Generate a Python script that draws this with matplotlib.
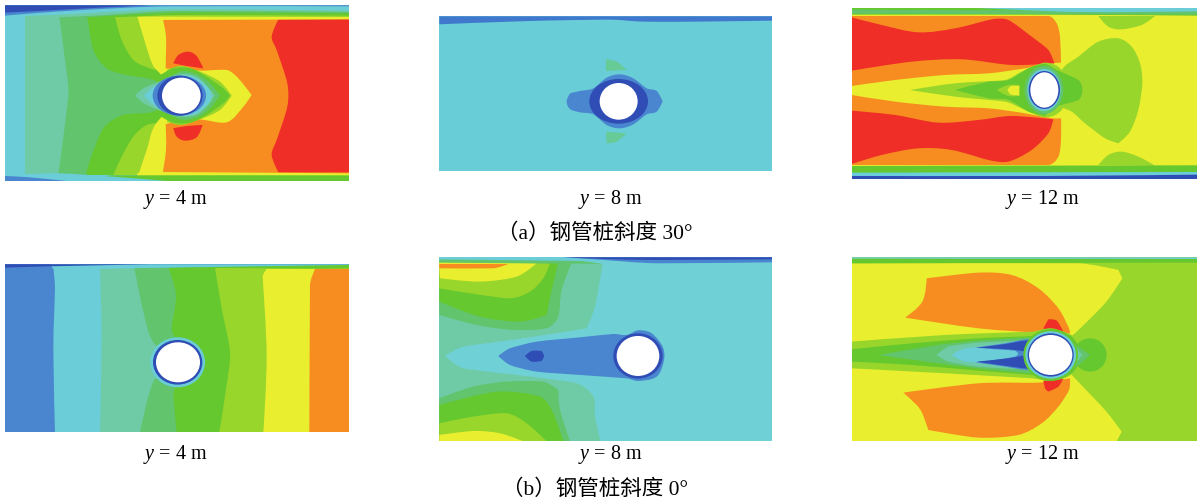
import matplotlib
matplotlib.use('Agg')
import matplotlib.pyplot as plt
import numpy as np
from matplotlib.patches import Ellipse, PathPatch
from matplotlib.path import Path

plt.rcParams['font.family'] = ['Liberation Serif', 'Noto Sans CJK SC']
plt.rcParams['mathtext.fontset'] = 'custom'
plt.rcParams['mathtext.it'] = 'Liberation Serif:italic'
plt.rcParams['mathtext.rm'] = 'Liberation Serif'

DEEP = '#2f4db4'
BLUE = '#4a86cf'
CYAN = '#6bcdd8'
TEAL = '#6fcba5'
MED = '#62c46c'
LG = '#66c82f'
YG = '#98d62c'
YEL = '#e9ee2e'
ORA = '#f78c20'
RED = '#ee2e27'

captions = ['（a）钢管桩斜度 30°', '（b）钢管桩斜度 0°']
labels = ['$y$ = 4 m', '$y$ = 8 m', '$y$ = 12 m']

# contour outlines, units are 3x crop pixels of each panel
# panel 1: y=4, 30 deg
p1_teal = [(75, 50), (1047, 50), (1047, 525), (75, 525)]
p1_med = [(178, 50), (1047, 50), (1047, 525), (175, 525), (205, 285), (195, 180)]
p1_lg = [(262, 50), (280, 150), (320, 205), (380, 225), (460, 240), (544, 287), (460, 335), (370, 345), (310, 385),
         (270, 480), (258, 525), (1047, 525), (1047, 50)]
p1_yg = [(345, 50), (365, 120), (400, 180), (450, 205), (500, 220), (544, 287), (500, 360), (440, 375), (400, 410),
         (365, 470), (340, 525), (1047, 525), (1047, 50)]
p1_yel = [(412, 50), (430, 110), (450, 175), (465, 205), (544, 287), (465, 375), (440, 450), (415, 525), (1047, 525),
          (1047, 50)]
p1_ora = [(487, 50), (498, 110), (497, 205), (590, 212), (680, 210), (715, 235), (755, 285), (730, 320), (680, 367),
          (590, 358), (497, 372), (498, 450), (487, 525), (1047, 525), (1047, 50)]
p1_red_r = [(835, 58), (815, 110), (830, 150), (862, 250), (862, 320), (830, 420), (815, 465), (835, 517), (1047, 517),
            (1047, 58)]
p1_red_t = [(520, 190), (535, 165), (565, 155), (590, 168), (610, 205), (560, 198)]
p1_red_b = [(520, 385), (560, 378), (608, 375), (590, 412), (555, 422), (530, 410)]
p1_in_yg = [(500, 210), (545, 198), (600, 215), (660, 245), (695, 287), (660, 330), (600, 358), (545, 375), (500, 365),
            (530, 287)]
p1_in_lg = [(470, 232), (520, 205), (570, 205), (620, 230), (670, 265), (690, 287), (670, 310), (620, 345), (570, 368),
            (520, 368), (470, 342)]
p1_in_med = [(450, 262), (540, 215), (590, 222), (630, 250), (660, 287), (630, 325), (590, 352), (540, 358), (450, 312)]
p1_in_teal = [(405, 287), (430, 265), (470, 248), (540, 222), (590, 230), (625, 262), (645, 287), (625, 315), (590, 345),
              (540, 350), (470, 328), (430, 309)]
p1_in_cyan = [(432, 287), (450, 268), (480, 250), (540, 226), (590, 235), (625, 265), (635, 287), (625, 310), (590, 340),
              (540, 346), (480, 326), (450, 306)]
p1_s_yel = [(412, 16), (1047, 16), (1047, 58), (487, 60), (412, 52)]
p1_s_yg = [(345, 16), (1047, 16), (1047, 51), (530, 50), (412, 50), (345, 54)]
p1_s_lg = [(262, 16), (1047, 16), (1047, 47), (540, 45), (345, 52), (262, 55)]
p1_s_med = [(178, 16), (1047, 16), (1047, 40), (530, 38), (262, 52), (178, 55)]
p1_s_teal = [(75, 16), (1047, 16), (1047, 36), (530, 33), (300, 46), (178, 52), (75, 55)]
p1_s_cyan = [(15, 16), (1047, 16), (1047, 32), (530, 28), (178, 44), (75, 48), (15, 48)]
p1_s_blue = [(15, 16), (1047, 16), (1047, 19), (500, 19), (250, 30), (100, 40), (15, 47)]
p1_s_deep = [(15, 16), (450, 16), (300, 23), (100, 34), (15, 38)]
p1_b_yel = [(412, 519), (487, 516), (1047, 520), (1047, 543), (412, 543)]
p1_b_lg = [(340, 526), (1047, 526), (1047, 543), (250, 543)]
p1_b_cyan = [(15, 518), (75, 522), (180, 520), (340, 530), (500, 543), (15, 543)]
p1_b_blue = [(15, 528), (90, 532), (200, 543), (15, 543)]

# panel 2: y=8, 30 deg
p2_top = [(28, 34), (1026, 34), (1026, 47), (800, 50), (640, 50), (540, 44), (300, 48), (28, 58)]
p2_blue = [(410, 289), (420, 265), (450, 258), (490, 250), (530, 218), (570, 208), (610, 220), (650, 250), (680, 258),
           (698, 289), (680, 320), (650, 328), (610, 358), (570, 370), (530, 360), (490, 328), (450, 322), (420, 312)]
p2_gr_t = [(528, 163), (560, 170), (590, 195), (528, 198)]
p2_gr_b = [(528, 380), (590, 385), (560, 410), (530, 415)]

# panel 3: y=12, 30 deg
p3_ora_u = [(20, 48), (610, 48), (635, 70), (645, 110), (648, 188), (620, 190), (540, 205), (430, 220), (300, 225),
            (150, 240), (20, 258)]
p3_ora_l = [(20, 285), (150, 305), (300, 320), (430, 325), (540, 340), (620, 355), (648, 355), (648, 420), (640, 470),
            (610, 495), (20, 495)]
p3_red_u = [(20, 52), (110, 75), (220, 97), (330, 85), (440, 58), (490, 60), (560, 110), (610, 150), (628, 190),
            (500, 195), (350, 178), (200, 185), (20, 212)]
p3_red_l = [(20, 332), (150, 345), (280, 368), (400, 360), (500, 348), (625, 358), (610, 400), (560, 450), (490, 485),
            (430, 480), (320, 450), (220, 445), (110, 465), (20, 492)]
p3_yg_big = [(650, 212), (700, 170), (760, 125), (820, 115), (860, 140), (885, 190), (892, 250), (880, 330), (855, 395),
             (820, 430), (780, 415), (720, 370), (680, 335), (640, 320)]
p3_yg_t = [(760, 48), (930, 48), (890, 75), (830, 88), (790, 80)]
p3_yg_b = [(760, 495), (790, 465), (830, 455), (880, 470), (930, 497)]
p3_w_yg = [(195, 270), (330, 250), (480, 240), (530, 215), (600, 188), (650, 210), (665, 270), (650, 330), (600, 352),
           (530, 325), (480, 305), (330, 290)]
p3_w_lg = [(330, 270), (430, 245), (490, 240), (550, 205), (600, 192), (635, 210), (700, 240), (712, 270), (700, 300),
           (635, 320), (600, 348), (550, 335), (490, 300), (430, 295)]
p3_spot_yg = [(455, 270), (490, 255), (525, 255), (525, 288), (490, 288)]
p3_spot_yel = [(487, 270), (498, 258), (522, 258), (522, 286), (498, 284)]
p3_s_t = [(20, 24), (1056, 24), (1056, 47), (600, 44), (20, 44)]
p3_s_t2 = [(20, 29), (1056, 33), (1056, 44), (20, 41)]
p3_s_t3 = [(400, 24), (1056, 24), (1056, 34), (700, 36)]
p3_s_b = [(20, 498), (1056, 496), (1056, 538), (20, 538)]
p3_s_b2 = [(20, 518), (1056, 516), (1056, 538), (20, 538)]
p3_s_b3 = [(20, 528), (600, 528), (1056, 524), (1056, 538), (20, 538)]

# panel 4: y=4, 0 deg
p4_cyan = [(160, 38), (165, 100), (160, 280), (165, 532), (1047, 532), (1047, 38)]
p4_teal = [(300, 38), (305, 250), (300, 532), (1047, 532), (1047, 38)]
p4_med = [(403, 38), (430, 170), (460, 262), (533, 322), (460, 380), (420, 532), (1047, 532), (1047, 38)]
p4_lg = [(505, 38), (528, 120), (515, 220), (530, 262), (533, 322), (530, 380), (520, 420), (530, 532), (1047, 532),
         (1047, 38)]
p4_yg = [(645, 38), (665, 160), (690, 290), (680, 390), (658, 532), (1047, 532), (1047, 38)]
p4_yel = [(800, 42), (788, 65), (800, 300), (790, 532), (1047, 532), (1047, 42)]
p4_ora = [(945, 42), (930, 90), (928, 532), (1047, 532), (1047, 42)]
p4_s_cyan = [(150, 28), (1047, 28), (1047, 34), (500, 38), (300, 42), (160, 42)]
p4_s_lg = [(500, 38), (1047, 30), (1047, 40), (945, 41), (800, 40)]
p4_s_deep = [(15, 28), (450, 28), (150, 34), (15, 38)]

# panel 5: y=8, 0 deg
p5_teal = [(28, 38), (518, 42), (495, 170), (470, 235), (300, 262), (100, 290), (45, 318), (100, 355), (300, 380),
           (440, 400), (490, 440), (495, 500), (512, 574), (28, 574)]
p5_med_u = [(28, 195), (140, 225), (250, 240), (350, 235), (385, 200), (395, 120), (425, 38), (28, 35)]
p5_lg_u = [(28, 155), (150, 200), (270, 215), (350, 195), (365, 120), (385, 38), (28, 35)]
p5_yg_u = [(28, 115), (120, 130), (240, 145), (300, 125), (340, 85), (360, 40), (28, 35)]
p5_yel_u = [(28, 55), (30, 85), (150, 95), (260, 80), (320, 40), (28, 35)]
p5_ora_u = [(28, 42), (235, 42), (190, 55), (28, 55)]
p5_med_l = [(28, 445), (130, 410), (230, 395), (340, 395), (385, 420), (390, 480), (420, 574), (28, 574)]
p5_lg_l = [(28, 465), (200, 425), (330, 440), (370, 490), (400, 574), (28, 574)]
p5_yg_l = [(28, 520), (130, 500), (230, 490), (290, 520), (350, 574), (28, 574)]
p5_yel_l = [(28, 555), (130, 543), (210, 550), (280, 574), (28, 574)]
p5_s_gr = [(28, 28), (400, 28), (518, 42), (28, 38)]
p5_s_cyan = [(28, 22), (400, 22), (520, 34), (28, 28)]
p5_s_blue = [(400, 22), (1026, 22), (1026, 37), (680, 40), (520, 30)]
p5_s_deep = [(400, 22), (1026, 22), (1026, 28), (680, 30), (520, 27)]
p5_spear = [(205, 318), (240, 295), (320, 275), (450, 262), (550, 252), (590, 255), (625, 241), (665, 250), (698, 290),
            (702, 330), (680, 380), (625, 393), (590, 385), (450, 375), (320, 365), (240, 345)]
p5_dark = [(285, 318), (305, 303), (335, 303), (342, 318), (335, 333), (305, 335)]

# panel 6: y=12, 0 deg
p6_yel = [(20, 40), (700, 40), (820, 60), (832, 85), (780, 160), (690, 250), (660, 270), (660, 345), (690, 385),
          (780, 480), (830, 545), (815, 574), (20, 574)]
p6_s_lg = [(20, 26), (1056, 26), (1056, 38), (20, 40)]
p6_s_cyan = [(20, 22), (1056, 22), (1056, 27), (20, 26)]
p6_ora_u = [(245, 85), (400, 68), (500, 75), (580, 115), (640, 175), (672, 235), (675, 250), (580, 248), (400, 235),
            (180, 203), (232, 155)]
p6_ora_l = [(175, 428), (400, 400), (580, 398), (675, 385), (672, 420), (640, 470), (590, 520), (520, 555), (400, 563),
            (250, 540), (232, 490), (215, 465)]
p6_red_u = [(595, 235), (610, 208), (635, 212), (655, 245), (600, 240)]
p6_red_l = [(595, 392), (655, 385), (640, 410), (610, 425), (600, 415)]
p6_w_yg = [(20, 275), (300, 255), (560, 245), (620, 235), (680, 255), (700, 315), (680, 372), (620, 392), (560, 385),
           (300, 370), (20, 355)]
p6_w_lg = [(20, 298), (200, 280), (400, 265), (560, 258), (620, 240), (680, 260), (715, 315), (680, 370), (620, 385),
           (560, 375), (400, 362), (200, 345), (20, 335)]
p6_w_med = [(100, 315), (280, 285), (400, 272), (560, 262), (640, 250), (700, 290), (735, 315), (700, 345), (640, 375),
            (560, 370), (400, 355), (280, 340)]
p6_w_teal = [(275, 315), (310, 290), (400, 278), (560, 270), (640, 255), (690, 290), (712, 315), (690, 340), (640, 370),
             (560, 360), (400, 350), (310, 335)]
p6_w_cyan = [(320, 315), (360, 295), (560, 272), (640, 262), (680, 290), (695, 315), (680, 340), (640, 362), (560, 355),
             (360, 335)]
p6_w_blue = [(390, 293), (480, 280), (560, 268), (620, 300), (620, 335), (560, 360), (480, 350), (390, 337), (450, 330),
             (510, 320), (520, 312), (510, 302), (450, 298)]
p6_w_deep = [(395, 293), (470, 284), (555, 272), (600, 300), (600, 340), (555, 356), (470, 346), (395, 335), (490, 325),
             (545, 315), (545, 305), (490, 298)]

W, H = 1198., 499.


def panel(box, xl, yl, bg):
    x0, y0, x1, y1 = box
    ax = plt.axes([x0/W, 1-y1/H, (x1-x0)/W, (y1-y0)/H])
    ax.set_xlim(xl)
    ax.set_ylim(yl[1], yl[0])
    ax.set_xticks([])
    ax.set_yticks([])
    ax.set_facecolor(bg)
    for s in ax.spines.values():
        s.set_visible(False)
    return ax


def band(ax, pts, c):
    # same vertices, just rounded through with beziers; sharp turns stay sharp
    p = np.array(pts, dtype=float)
    n = len(p)
    hand = np.zeros((n, 2))
    for i in range(n):
        a = p[i]-p[i-1]
        b = p[(i+1) % n]-p[i]
        la, lb = np.hypot(*a), np.hypot(*b)
        if np.dot(a, b)/(la*lb) > 0.6:
            t = p[(i+1) % n]-p[i-1]
            hand[i] = t/np.hypot(*t)*min(la, lb)/3
    verts = [p[0]]
    codes = [Path.MOVETO]
    for i in range(n):
        j = (i+1) % n
        verts += [p[i]+hand[i], p[j]-hand[j], p[j]]
        codes += [Path.CURVE4]*3
    ax.add_patch(PathPatch(Path(verts, codes), fc=c, ec='none', lw=0))


def ring(ax, x, y, rx, ry, c):
    ax.add_patch(Ellipse((x, y), 2*rx, 2*ry, fc=c, ec='none'))


fig = plt.figure(figsize=(11.98, 4.99), dpi=100)

# 1
ax = panel((5, 5.3, 349, 181), (15, 1047), (16, 543), CYAN)
for pts, c in [(p1_teal, TEAL), (p1_med, MED), (p1_lg, LG), (p1_yg, YG), (p1_yel, YEL), (p1_ora, ORA), (p1_red_r, RED),
               (p1_red_t, RED), (p1_red_b, RED), (p1_in_yg, YG), (p1_in_lg, LG), (p1_in_med, MED), (p1_in_teal, TEAL),
               (p1_in_cyan, CYAN), (p1_s_yel, YEL), (p1_s_yg, YG), (p1_s_lg, LG), (p1_s_med, MED), (p1_s_teal, TEAL),
               (p1_s_cyan, CYAN), (p1_s_blue, BLUE), (p1_s_deep, DEEP), (p1_b_yel, YEL), (p1_b_lg, LG),
               (p1_b_cyan, CYAN), (p1_b_blue, BLUE)]:
    band(ax, pts, c)
ring(ax, 538, 287, 80, 60, BLUE)
ring(ax, 540, 287, 68, 60, DEEP)
ring(ax, 544, 287, 58, 54, 'white')

# 2
ax = panel((439.3, 16.3, 772, 170.7), (28, 1026), (34, 497), '#69cdd8')
for pts, c in [(p2_top, '#3f78cc'), (p2_blue, BLUE), (p2_gr_t, '#66cb96'), (p2_gr_b, '#66cb96')]:
    band(ax, pts, c)
ring(ax, 566, 289, 88, 67, DEEP)
ring(ax, 566, 289, 57, 55, 'white')

# 3
ax = panel((851.7, 8, 1197, 179.3), (20, 1056), (24, 538), YEL)
for pts, c in [(p3_ora_u, ORA), (p3_ora_l, ORA), (p3_red_u, RED), (p3_red_l, RED), (p3_yg_big, YG), (p3_yg_t, YG),
               (p3_yg_b, YG), (p3_w_yg, YG), (p3_w_lg, LG), (p3_spot_yg, YG), (p3_spot_yel, YEL), (p3_s_t, LG),
               (p3_s_t2, MED), (p3_s_t3, CYAN), (p3_s_b, LG), (p3_s_b2, CYAN), (p3_s_b3, DEEP)]:
    band(ax, pts, c)
ring(ax, 597, 270, 58, 72, MED)
ring(ax, 597, 270, 50, 63, CYAN)
ring(ax, 598, 270, 47, 57, DEEP)
ring(ax, 598, 270, 42, 53, 'white')

# 4
ax = panel((5, 264.3, 349, 432.3), (15, 1047), (28, 532), BLUE)
for pts, c in [(p4_cyan, CYAN), (p4_teal, TEAL), (p4_med, MED), (p4_lg, LG), (p4_yg, YG), (p4_yel, YEL), (p4_ora, ORA),
               (p4_s_cyan, CYAN), (p4_s_lg, LG), (p4_s_deep, DEEP)]:
    band(ax, pts, c)
ring(ax, 533, 322, 82, 75, CYAN)
ring(ax, 533, 322, 74, 67, DEEP)
ring(ax, 534, 322, 66, 60, 'white')

# 5
ax = panel((439.3, 257.3, 772, 441.3), (28, 1026), (22, 574), '#6fd0d6')
for pts, c in [(p5_teal, TEAL), (p5_med_u, MED), (p5_lg_u, LG), (p5_yg_u, YG), (p5_yel_u, YEL), (p5_ora_u, ORA),
               (p5_med_l, MED), (p5_lg_l, LG), (p5_yg_l, YG), (p5_yel_l, YEL), (p5_s_gr, MED), (p5_s_cyan, CYAN),
               (p5_s_blue, BLUE), (p5_s_deep, DEEP), (p5_spear, BLUE), (p5_dark, DEEP)]:
    band(ax, pts, c)
ring(ax, 624, 318, 74, 68, DEEP)
ring(ax, 624, 318, 64, 60, 'white')

# 6
ax = panel((851.7, 257.3, 1197, 441.3), (20, 1056), (22, 574), YG)
for pts, c in [(p6_yel, YEL), (p6_s_lg, LG), (p6_s_cyan, CYAN), (p6_ora_u, ORA), (p6_ora_l, ORA), (p6_red_u, RED),
               (p6_red_l, RED), (p6_w_yg, YG), (p6_w_lg, LG)]:
    band(ax, pts, c)
ring(ax, 735, 315, 50, 50, LG)
for pts, c in [(p6_w_med, MED), (p6_w_teal, TEAL), (p6_w_cyan, CYAN), (p6_w_blue, BLUE), (p6_w_deep, DEEP)]:
    band(ax, pts, c)
ring(ax, 617, 315, 82, 78, LG)
ring(ax, 617, 315, 76, 71, CYAN)
ring(ax, 617, 315, 69, 65, DEEP)
ring(ax, 617, 315, 65, 60, 'white')

# texts
for x, lab in zip([175, 610, 1042], labels):
    fig.text(x/W, 1-199/H, lab, ha='center', va='center', fontsize=14.5)
    fig.text(x/W, 1-455/H, lab, ha='center', va='center', fontsize=14.5)
fig.text(595/W, 1-234/H, captions[0], ha='center', va='center', fontsize=15.5)
fig.text(595/W, 1-490/H, captions[1], ha='center', va='center', fontsize=15.5)

fig.savefig('out.png', dpi=100)
